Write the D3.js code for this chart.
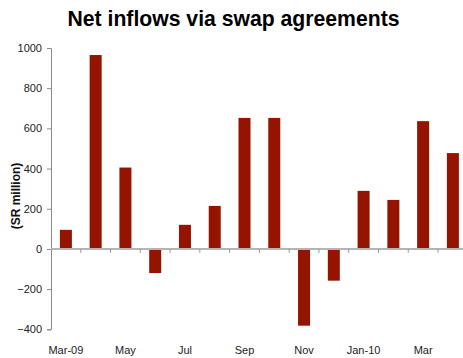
<!DOCTYPE html>
<html>
<head>
<meta charset="utf-8">
<script src="https://cdn.jsdelivr.net/npm/d3@7"></script>
<style>
  html, body { margin: 0; padding: 0; background: #fff; }
  svg { display: block; }
  text { font-family: "Liberation Sans", Arial, sans-serif; }
</style>
</head>
<body>
<div id="chart"></div>
<script>
// Monthly net inflows via swap agreements, SR million
const months = ["Mar-09", "Apr", "May", "Jun", "Jul", "Aug", "Sep", "Oct", "Nov", "Dec", "Jan-10", "Feb", "Mar", "Apr-10"];
const tickLabels = ["Mar-09", "", "May", "", "Jul", "", "Sep", "", "Nov", "", "Jan-10", "", "Mar", ""];
const inflows = [95, 965, 405, -120, 120, 214, 652, 652, -382, -158, 289, 244, 636, 477];
const yTicks = [-400, -200, 0, 200, 400, 600, 800, 1000];

const W = 463, H = 358;
const left = 51;
const bandStep = 29.77;

const svg = d3.select("#chart").append("svg")
  .attr("width", W).attr("height", H);

const y = d3.scaleLinear().domain([-400, 1000]).range([329.3, 48]);
const x = d3.scaleBand().domain(months)
  .range([left, left + bandStep * months.length])
  .paddingInner(0).paddingOuter(0);

// Title
svg.append("text")
  .attr("x", 233.5).attr("y", 26)
  .attr("text-anchor", "middle")
  .attr("font-size", 21.2).attr("font-weight", "bold")
  .attr("fill", "#000")
  .text("Net inflows via swap agreements");

// Y axis title
svg.append("text")
  .attr("transform", "translate(20,196) rotate(-90)")
  .attr("text-anchor", "middle")
  .attr("font-size", 12).attr("font-weight", "bold")
  .attr("fill", "#111")
  .text("(SR million)");

// Bars
svg.append("g").selectAll("rect").data(inflows).join("rect")
  .attr("x", (d, i) => x(months[i]) + (x.bandwidth() - 12) / 2)
  .attr("width", 12)
  .attr("y", d => y(Math.max(0, d)))
  .attr("height", d => Math.abs(y(d) - y(0)))
  .attr("fill", "#951400");

// Y axis
const yAxis = svg.append("g")
  .attr("transform", `translate(${left},0)`)
  .call(d3.axisLeft(y).tickValues(yTicks).tickSize(4).tickPadding(5).tickFormat(d3.format("d")));
yAxis.select(".domain").attr("stroke", "#8a8a8a");
yAxis.selectAll(".tick line").attr("stroke", "#8a8a8a");
yAxis.selectAll(".tick text").attr("font-size", 11).attr("fill", "#222")
  .attr("font-family", "Liberation Sans, Arial, sans-serif");

// X axis along zero line, ticks at band boundaries
const xg = svg.append("g");
xg.append("line")
  .attr("x1", left).attr("x2", W)
  .attr("y1", y(0)).attr("y2", y(0))
  .attr("stroke", "#b4b4b4").attr("stroke-width", 2);
xg.selectAll("line.tk").data(months.slice(1)).join("line")
  .attr("class", "tk")
  .attr("x1", d => x(d)).attr("x2", d => x(d))
  .attr("y1", y(0)).attr("y2", y(0) + 4)
  .attr("stroke", "#999");

// X tick labels at bottom
svg.append("g").selectAll("text").data(months).join("text")
  .attr("x", d => x(d) + x.bandwidth() / 2)
  .attr("y", 354)
  .attr("text-anchor", "middle")
  .attr("font-size", 11).attr("fill", "#222")
  .text((d, i) => tickLabels[i]);
</script>
</body>
</html>
